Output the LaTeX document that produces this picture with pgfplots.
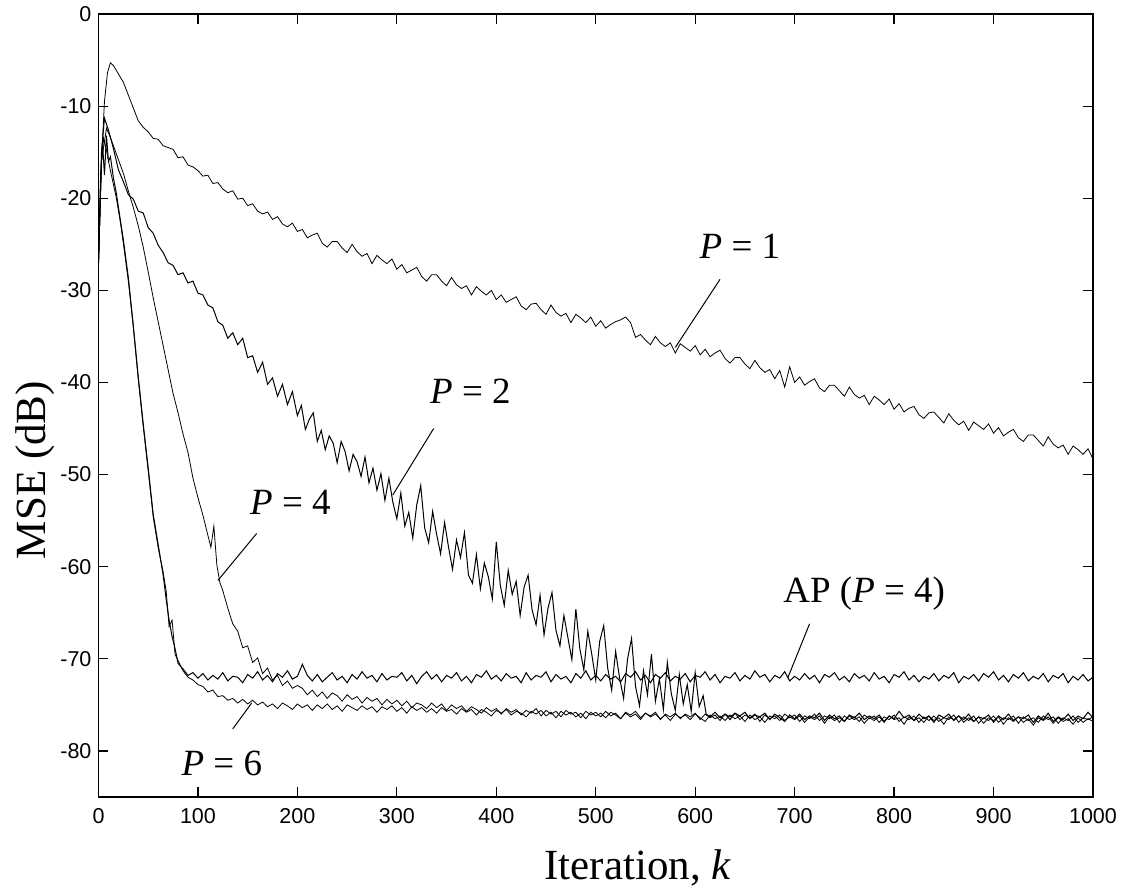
\documentclass[border=0pt]{standalone}
\usepackage{fontspec}
\setmainfont{Liberation Serif}
\newfontfamily\ticksans{Liberation Sans}
\usepackage{pgfplots}
\pgfplotsset{compat=1.18}

\begin{document}
\begin{tikzpicture}
\useasboundingbox (-49.25pt,-45.5pt) rectangle (516.75pt,398.5pt);
\begin{axis}[
    at={(0,0)}, anchor=south west,
    width=497.25pt, height=391.5pt, scale only axis,
    xmin=0, xmax=1000, ymin=-85, ymax=0,
    xtick={0,100,...,1000}, ytick={-80,-70,...,0},
    tick align=inside, major tick length=5pt,
    every tick/.style={black, line width=0.6pt},
    axis line style={line width=0.9pt},
    ticklabel style={font=\ticksans\fontsize{10.75}{12}\selectfont},
    xticklabel style={yshift=-2pt},
    /pgf/number format/assume math mode=true,
    /pgf/number format/1000 sep={},
    xlabel={Iteration, \textit{k}},
    ylabel={MSE (dB)},
    x label style={at={(axis description cs:0.5425,-0.106)}, anchor=base,
        font=\fontsize{21.5}{24}\selectfont},
    y label style={at={(axis description cs:-0.0638,0.4176)}, anchor=center,
        font=\fontsize{21.5}{24}\selectfont},
    clip=false,
    cycle list={{black, line width=0.5pt, no markers}},
]
% P = 1
\addplot coordinates {
(0,-27.0) (3,-16.0) (6,-9.5) (9,-6.4) (12,-5.3) (15,-5.6) (20,-6.5) (25,-7.4) (30,-8.8) (35,-10.2)
(40,-11.6) (45,-12.3) (50,-12.8) (55,-13.5) (60,-13.6) (65,-14.3) (70,-14.5) (75,-14.7) (80,-15.6) (85,-15.5)
(90,-16.4) (95,-16.6) (100,-17.0) (105,-17.6) (110,-17.5) (115,-18.4) (120,-18.3) (125,-19.0) (130,-19.4) (135,-19.2)
(140,-20.1) (145,-20.0) (150,-20.8) (155,-20.6) (160,-21.4) (165,-21.7) (170,-21.5) (175,-22.3) (180,-22.0) (185,-22.8)
(190,-23.1) (195,-22.7) (200,-23.6) (205,-23.4) (210,-24.3) (215,-24.0) (220,-23.8) (225,-24.9) (230,-25.3) (235,-24.7)
(240,-24.7) (245,-25.4) (250,-25.9) (255,-25.0) (260,-25.8) (265,-26.3) (270,-26.0) (275,-27.1) (280,-26.2) (285,-26.7)
(290,-27.1) (295,-26.6) (300,-27.7) (305,-27.2) (310,-28.1) (315,-27.8) (320,-27.5) (325,-28.5) (330,-29.0) (335,-28.3)
(340,-28.3) (345,-29.0) (350,-29.5) (355,-28.6) (360,-29.4) (365,-29.8) (370,-29.5) (375,-30.5) (380,-29.6) (385,-30.1)
(390,-30.5) (395,-30.0) (400,-31.0) (405,-30.5) (410,-31.3) (415,-31.0) (420,-30.7) (425,-31.7) (430,-32.1) (435,-31.5)
(440,-31.4) (445,-32.1) (450,-32.6) (455,-31.6) (460,-32.4) (465,-32.8) (470,-32.5) (475,-33.5) (480,-32.6) (485,-33.0)
(490,-33.5) (495,-32.9) (500,-33.9) (505,-33.3) (510,-34.1) (515,-33.7) (520,-33.4) (525,-33.2) (530,-32.9) (535,-33.5)
(540,-35.1) (545,-34.8) (550,-35.4) (555,-35.9) (560,-35.0) (565,-35.7) (570,-36.1) (575,-35.7) (580,-36.8) (585,-35.8)
(590,-36.2) (595,-36.6) (600,-36.0) (605,-37.0) (610,-36.4) (615,-37.2) (620,-36.8) (625,-36.5) (630,-37.4) (635,-37.9)
(640,-37.3) (645,-37.3) (650,-38.0) (655,-38.5) (660,-37.6) (665,-38.4) (670,-38.9) (675,-38.6) (680,-39.6) (685,-38.7)
(690,-40.5) (695,-38.3) (700,-40.0) (705,-39.4) (710,-40.3) (715,-39.9) (720,-39.6) (725,-40.6) (730,-41.0) (735,-40.3)
(740,-40.3) (745,-40.9) (750,-41.5) (755,-40.5) (760,-41.3) (765,-41.7) (770,-41.4) (775,-42.4) (780,-41.5) (785,-41.9)
(790,-42.4) (795,-41.8) (800,-42.9) (805,-42.3) (810,-43.2) (815,-42.8) (820,-42.6) (825,-43.5) (830,-43.9) (835,-43.3)
(840,-43.2) (845,-43.8) (850,-44.4) (855,-43.4) (860,-44.1) (865,-44.6) (870,-44.2) (875,-45.2) (880,-44.3) (885,-44.7)
(890,-45.1) (895,-44.5) (900,-45.5) (905,-44.9) (910,-45.8) (915,-45.4) (920,-45.1) (925,-46.0) (930,-46.4) (935,-45.7)
(940,-45.7) (945,-46.3) (950,-46.9) (955,-45.9) (960,-46.7) (965,-47.1) (970,-46.8) (975,-47.8) (980,-46.9) (985,-47.3)
(990,-47.8) (995,-47.2) (1000,-48.3)
};
% P = 2
\addplot coordinates {
(0,-27.0) (3,-15.0) (6,-11.3) (10,-12.6) (15,-14.6) (20,-16.9) (25,-18.2) (30,-19.6) (35,-20.1) (40,-21.4)
(45,-21.6) (50,-23.2) (55,-23.8) (60,-25.1) (65,-25.9) (70,-27.0) (75,-27.3) (80,-28.3) (85,-28.1) (90,-29.2)
(95,-29.0) (100,-30.3) (105,-30.5) (110,-31.6) (115,-31.9) (120,-33.4) (125,-33.8) (130,-35.2) (135,-34.6) (140,-35.9)
(145,-35.2) (150,-37.3) (155,-37.1) (160,-38.9) (165,-37.8) (170,-40.2) (175,-39.5) (180,-41.5) (185,-40.2) (190,-42.4)
(195,-41.0) (200,-43.6) (204,-42.5) (208,-45.1) (212,-44.0) (216,-43.3) (220,-46.4) (224,-45.2) (228,-47.3) (232,-45.8)
(236,-46.6) (240,-48.7) (244,-46.4) (248,-47.5) (252,-49.6) (256,-47.8) (260,-48.6) (264,-50.2) (268,-48.1) (272,-50.9)
(276,-49.3) (280,-51.7) (284,-49.9) (288,-52.8) (292,-50.4) (296,-53.0) (300,-54.8) (304,-52.0) (308,-55.6) (312,-54.1)
(316,-56.9) (320,-53.3) (324,-51.2) (328,-55.8) (332,-57.4) (336,-54.0) (340,-56.5) (344,-58.6) (348,-55.2) (352,-57.9)
(356,-60.3) (360,-57.1) (364,-59.0) (368,-56.3) (372,-60.9) (376,-61.8) (380,-58.7) (384,-62.4) (388,-59.6) (392,-61.1)
(396,-63.5) (400,-57.3) (404,-62.0) (408,-64.2) (412,-60.4) (416,-63.0) (420,-61.6) (424,-65.3) (428,-62.2) (432,-60.9)
(436,-64.7) (440,-66.3) (444,-63.1) (448,-67.4) (452,-64.5) (456,-62.8) (460,-66.9) (464,-68.6) (468,-65.3) (472,-67.7)
(476,-70.1) (480,-64.6) (484,-68.9) (488,-71.2) (492,-67.0) (496,-69.5) (500,-72.3) (504,-68.1) (508,-66.4) (512,-71.0)
(516,-73.4) (520,-69.2) (524,-72.1) (528,-74.3) (532,-70.0) (536,-67.8) (540,-73.0) (544,-75.1) (548,-71.3) (552,-73.9)
(556,-69.5) (560,-74.6) (564,-72.2) (568,-75.5) (572,-70.4) (576,-73.8) (580,-75.6) (584,-71.7) (588,-74.9) (592,-72.8)
(596,-75.7) (600,-71.5) (604,-75.2) (608,-74.0) (611,-76.0) (615,-76.3) (620,-75.8) (625,-76.4) (630,-76.0) (635,-76.6)
(640,-75.9) (645,-76.2) (650,-75.8) (655,-76.5) (660,-76.1) (665,-76.3) (670,-75.9) (675,-76.6) (680,-76.0) (685,-76.4)
(690,-76.8) (695,-76.1) (700,-76.5) (705,-76.0) (710,-76.6) (715,-76.2) (720,-76.4) (725,-75.9) (730,-76.7) (735,-76.1)
(740,-76.5) (745,-76.2) (750,-76.8) (755,-76.1) (760,-76.4) (765,-75.9) (770,-76.6) (775,-76.2) (780,-76.5) (785,-76.1)
(790,-76.8) (795,-76.2) (800,-76.5) (805,-75.7) (810,-76.4) (815,-76.1) (820,-76.7) (825,-76.0) (830,-76.5) (835,-76.2)
(840,-76.9) (845,-76.1) (850,-76.4) (855,-76.0) (860,-76.7) (865,-76.2) (870,-76.6) (875,-76.0) (880,-76.8) (885,-76.3)
(890,-76.5) (895,-76.1) (900,-76.9) (905,-76.2) (910,-76.6) (915,-76.0) (920,-76.7) (925,-76.3) (930,-76.5) (935,-76.1)
(940,-76.9) (945,-76.2) (950,-76.6) (955,-75.9) (960,-76.8) (965,-76.3) (970,-76.6) (975,-76.0) (980,-76.7) (985,-76.2)
(990,-76.5) (995,-75.8) (1000,-76.4)
};
% P = 4
\addplot coordinates {
(0,-27.0) (3,-16.0) (8,-12.4) (12,-13.4) (15,-14.3) (20,-15.8) (25,-17.3) (30,-19.2) (35,-21.0) (40,-23.0)
(45,-25.3) (50,-28.0) (55,-30.8) (60,-33.4) (65,-36.0) (70,-38.6) (75,-41.2) (80,-43.3) (85,-45.6) (90,-47.6)
(95,-50.4) (100,-52.5) (105,-54.4) (110,-56.6) (113,-57.9) (116,-55.6) (119,-59.8) (122,-61.7) (125,-62.6) (130,-64.5)
(135,-66.2) (140,-67.0) (145,-68.8) (150,-68.6) (155,-70.4) (160,-69.9) (165,-71.6) (170,-71.0) (175,-72.3) (180,-71.8)
(185,-72.9) (190,-72.4) (195,-73.2) (200,-72.9) (205,-73.2) (210,-73.9) (215,-73.4) (220,-74.1) (225,-73.6) (230,-74.3)
(235,-73.7) (240,-74.0) (245,-74.6) (250,-73.9) (255,-74.4) (260,-74.1) (265,-74.8) (270,-74.2) (275,-74.6) (280,-74.3)
(285,-75.0) (290,-74.4) (295,-74.9) (300,-74.5) (305,-75.1) (310,-74.6) (315,-75.3) (320,-74.8) (325,-75.0) (330,-75.4)
(335,-74.8) (340,-75.3) (345,-74.9) (350,-75.6) (355,-75.0) (360,-75.4) (365,-75.1) (370,-75.7) (375,-75.2) (380,-75.5)
(385,-75.9) (390,-75.3) (395,-75.7) (400,-75.4) (405,-76.0) (410,-75.4) (415,-75.8) (420,-75.5) (425,-76.1) (430,-75.6)
(435,-75.9) (440,-75.4) (445,-76.2) (450,-75.6) (455,-76.0) (460,-75.7) (465,-76.3) (470,-75.6) (475,-76.0) (480,-75.8)
(485,-76.4) (490,-75.7) (495,-76.1) (500,-75.8) (505,-76.3) (510,-75.7) (515,-76.2) (520,-75.9) (525,-76.5) (530,-75.8)
(535,-76.1) (540,-75.7) (545,-76.4) (550,-75.9) (555,-76.2) (560,-75.8) (565,-76.6) (570,-76.0) (575,-76.3) (580,-75.9)
(585,-76.5) (590,-76.0) (595,-76.3) (600,-75.9) (605,-76.6) (610,-76.0) (615,-76.4) (620,-76.1) (625,-76.7) (630,-76.0)
(635,-76.3) (640,-75.9) (645,-76.6) (650,-76.1) (655,-76.4) (660,-76.0) (665,-76.8) (670,-76.1) (675,-76.5) (680,-76.2)
(685,-76.7) (690,-76.0) (695,-76.4) (700,-76.1) (705,-76.8) (710,-76.2) (715,-76.5) (720,-76.0) (725,-76.7) (730,-76.2)
(735,-76.5) (740,-76.1) (745,-76.9) (750,-76.2) (755,-76.6) (760,-76.3) (765,-76.8) (770,-76.1) (775,-76.5) (780,-76.2)
(785,-76.9) (790,-76.3) (795,-76.6) (800,-76.1) (805,-76.8) (810,-76.3) (815,-76.6) (820,-76.2) (825,-76.9) (830,-76.3)
(835,-76.7) (840,-76.2) (845,-76.8) (850,-76.4) (855,-76.6) (860,-76.1) (865,-76.9) (870,-76.3) (875,-76.7) (880,-76.2)
(885,-77.0) (890,-76.4) (895,-76.7) (900,-76.2) (905,-76.9) (910,-76.4) (915,-76.6) (920,-76.2) (925,-77.0) (930,-76.3)
(935,-76.7) (940,-76.4) (945,-76.9) (950,-76.2) (955,-76.6) (960,-76.3) (965,-77.0) (970,-76.4) (975,-76.7) (980,-76.2)
(985,-76.9) (990,-76.4) (995,-76.6) (1000,-76.3)
};
% P = 6
\addplot coordinates {
(0,-27.0) (3,-16.0) (5,-13.5) (8,-14.8) (12,-17.0) (18,-20.0) (22,-22.6) (25,-24.9) (30,-29.0) (35,-34.0)
(40,-39.7) (45,-44.8) (50,-49.6) (55,-54.6) (60,-57.9) (65,-60.6) (68,-62.6) (71,-66.5) (74,-65.8) (77,-69.5)
(80,-70.2) (85,-71.3) (90,-72.0) (95,-72.3) (100,-72.8) (105,-73.0) (110,-73.6) (115,-73.4) (120,-74.1) (125,-74.0)
(130,-74.5) (135,-74.3) (140,-74.8) (145,-74.4) (150,-74.9) (155,-74.5) (160,-75.0) (165,-74.7) (170,-75.2) (175,-74.9)
(180,-75.4) (185,-74.8) (190,-75.1) (195,-75.5) (200,-74.9) (205,-75.3) (210,-75.0) (215,-75.6) (220,-75.0) (225,-75.4)
(230,-74.9) (235,-75.5) (240,-75.1) (245,-75.7) (250,-75.0) (255,-75.3) (260,-75.6) (265,-75.1) (270,-75.5) (275,-75.2)
(280,-75.8) (285,-75.2) (290,-75.5) (295,-75.1) (300,-75.7) (305,-75.3) (310,-75.9) (315,-75.2) (320,-75.6) (325,-75.3)
(330,-75.8) (335,-75.4) (340,-75.9) (345,-75.3) (350,-75.7) (355,-75.5) (360,-76.0) (365,-75.4) (370,-75.8) (375,-75.5)
(380,-76.1) (385,-75.5) (390,-75.8) (395,-76.2) (400,-75.6) (405,-75.9) (410,-75.5) (415,-76.1) (420,-75.7) (425,-75.9)
(430,-76.3) (435,-75.7) (440,-76.0) (445,-75.6) (450,-76.2) (455,-75.8) (460,-76.4) (465,-75.7) (470,-76.1) (475,-75.8)
(480,-76.3) (485,-75.9) (490,-76.5) (495,-75.8) (500,-76.2) (505,-75.9) (510,-76.4) (515,-75.8) (520,-76.1) (525,-76.5)
(530,-75.9) (535,-76.3) (540,-76.0) (545,-76.6) (550,-75.9) (555,-76.3) (560,-76.0) (565,-76.5) (570,-76.1) (575,-76.7)
(580,-76.0) (585,-76.4) (590,-76.1) (595,-76.6) (600,-76.0) (605,-76.4) (610,-76.8) (615,-76.1) (620,-76.5) (625,-76.2)
(630,-76.7) (635,-76.1) (640,-76.5) (645,-76.2) (650,-76.8) (655,-76.1) (660,-76.6) (665,-76.3) (670,-76.9) (675,-76.2)
(680,-76.5) (685,-76.1) (690,-76.7) (695,-76.3) (700,-76.6) (705,-76.2) (710,-76.9) (715,-76.3) (720,-76.6) (725,-76.2)
(730,-77.0) (735,-76.3) (740,-76.7) (745,-76.4) (750,-76.8) (755,-76.2) (760,-76.6) (765,-76.3) (770,-77.0) (775,-76.4)
(780,-76.7) (785,-76.3) (790,-76.9) (795,-76.2) (800,-76.6) (805,-76.4) (810,-77.1) (815,-76.3) (820,-76.7) (825,-76.4)
(830,-76.9) (835,-76.2) (840,-76.7) (845,-76.4) (850,-77.1) (855,-76.3) (860,-76.6) (865,-76.2) (870,-76.9) (875,-76.4)
(880,-76.8) (885,-76.3) (890,-77.0) (895,-76.4) (900,-76.7) (905,-76.3) (910,-77.1) (915,-76.4) (920,-76.8) (925,-76.3)
(930,-76.9) (935,-76.5) (940,-77.2) (945,-76.4) (950,-76.7) (955,-76.3) (960,-77.0) (965,-76.4) (970,-76.8) (975,-76.5)
(980,-77.1) (985,-76.4) (990,-76.9) (995,-76.5) (1000,-76.8)
};
% AP (P = 4)
\addplot coordinates {
(0,-27.0) (2,-18.0) (4,-14.0) (6,-17.5) (8,-13.2) (10,-16.0) (12,-15.5) (15,-17.8) (18,-19.5) (22,-22.4)
(25,-24.5) (30,-28.6) (35,-33.8) (40,-39.4) (45,-44.5) (50,-49.3) (55,-54.3) (60,-57.6) (65,-60.9) (68,-63.5)
(71,-65.8) (74,-67.6) (77,-68.9) (80,-70.5) (85,-71.1) (90,-71.8) (95,-71.5) (100,-72.1) (105,-71.6) (110,-72.3)
(115,-71.8) (120,-72.2) (125,-71.5) (130,-72.4) (135,-71.9) (140,-72.0) (145,-72.6) (150,-71.7) (155,-72.1) (160,-71.4)
(165,-72.3) (170,-71.8) (175,-72.5) (180,-71.6) (185,-72.0) (190,-71.3) (195,-72.2) (200,-71.9) (205,-70.6) (210,-71.8)
(215,-72.4) (220,-71.7) (225,-72.5) (230,-72.0) (235,-71.5) (240,-72.3) (245,-71.9) (250,-72.6) (255,-71.7) (260,-72.2)
(265,-71.4) (270,-72.1) (275,-71.8) (280,-72.5) (285,-71.6) (290,-72.3) (295,-71.9) (300,-72.0) (305,-71.5) (310,-72.4)
(315,-71.8) (320,-72.7) (325,-71.9) (330,-71.4) (335,-72.2) (340,-71.7) (345,-72.5) (350,-71.8) (355,-72.1) (360,-71.5)
(365,-72.4) (370,-71.9) (375,-72.6) (380,-71.7) (385,-72.0) (390,-71.3) (395,-72.2) (400,-71.8) (405,-72.4) (410,-71.6)
(415,-72.1) (420,-71.9) (425,-72.6) (430,-71.5) (435,-72.3) (440,-71.8) (445,-72.0) (450,-71.4) (455,-72.5) (460,-71.7)
(465,-72.2) (470,-71.9) (475,-72.6) (480,-71.6) (485,-72.1) (490,-71.3) (495,-72.3) (500,-71.8) (505,-72.4) (510,-71.7)
(515,-72.2) (520,-71.9) (525,-72.5) (530,-71.6) (535,-72.0) (540,-71.4) (545,-72.3) (550,-71.8) (555,-72.6) (560,-71.7)
(565,-72.1) (570,-71.5) (575,-72.4) (580,-71.9) (585,-72.2) (590,-71.6) (595,-72.5) (600,-71.8) (605,-72.0) (610,-71.4)
(615,-72.3) (620,-71.7) (625,-72.6) (630,-71.9) (635,-72.1) (640,-71.5) (645,-72.4) (650,-71.8) (655,-72.2) (660,-71.3)
(665,-72.0) (670,-71.7) (675,-72.5) (680,-71.8) (685,-72.1) (690,-71.4) (695,-72.4) (700,-71.9) (705,-72.3) (710,-71.6)
(715,-72.2) (720,-71.8) (725,-72.6) (730,-71.7) (735,-72.0) (740,-71.5) (745,-72.3) (750,-71.9) (755,-72.5) (760,-71.6)
(765,-72.1) (770,-71.8) (775,-72.4) (780,-71.5) (785,-72.2) (790,-71.9) (795,-72.6) (800,-71.7) (805,-72.0) (810,-71.4)
(815,-72.3) (820,-71.8) (825,-72.5) (830,-71.9) (835,-72.2) (840,-71.6) (845,-72.4) (850,-71.8) (855,-72.1) (860,-71.5)
(865,-72.6) (870,-71.9) (875,-72.2) (880,-71.7) (885,-72.4) (890,-71.6) (895,-72.0) (900,-71.4) (905,-72.3) (910,-71.8)
(915,-72.5) (920,-71.7) (925,-72.1) (930,-71.5) (935,-72.4) (940,-71.9) (945,-72.2) (950,-71.6) (955,-72.5) (960,-71.8)
(965,-72.1) (970,-71.6) (975,-72.6) (980,-71.9) (985,-72.3) (990,-71.7) (995,-72.4) (1000,-72.0)
};
% annotations
\draw[line width=0.5pt] (axis cs:625,-28.8) -- (axis cs:580,-36.2);
\draw[line width=0.5pt] (axis cs:337,-45.0) -- (axis cs:296,-52.2);
\draw[line width=0.5pt] (axis cs:159,-56.4) -- (axis cs:120,-61.5);
\draw[line width=0.5pt] (axis cs:135,-77.6) -- (axis cs:154,-74.8);
\draw[line width=0.5pt] (axis cs:715,-66.2) -- (axis cs:693,-72.1);
\begin{scope}[every node/.style={font=\fontsize{18.5}{20}\selectfont}]
\node at (axis cs:645,-25.2) {\textit{P} = 1};
\node at (axis cs:374,-40.9) {\textit{P} = 2};
\node at (axis cs:193,-53.0) {\textit{P} = 4};
\node at (axis cs:124,-81.4) {\textit{P} = 6};
\node at (axis cs:770,-62.9) {AP (\textit{P} = 4)};
\end{scope}
\end{axis}
\end{tikzpicture}
\end{document}
